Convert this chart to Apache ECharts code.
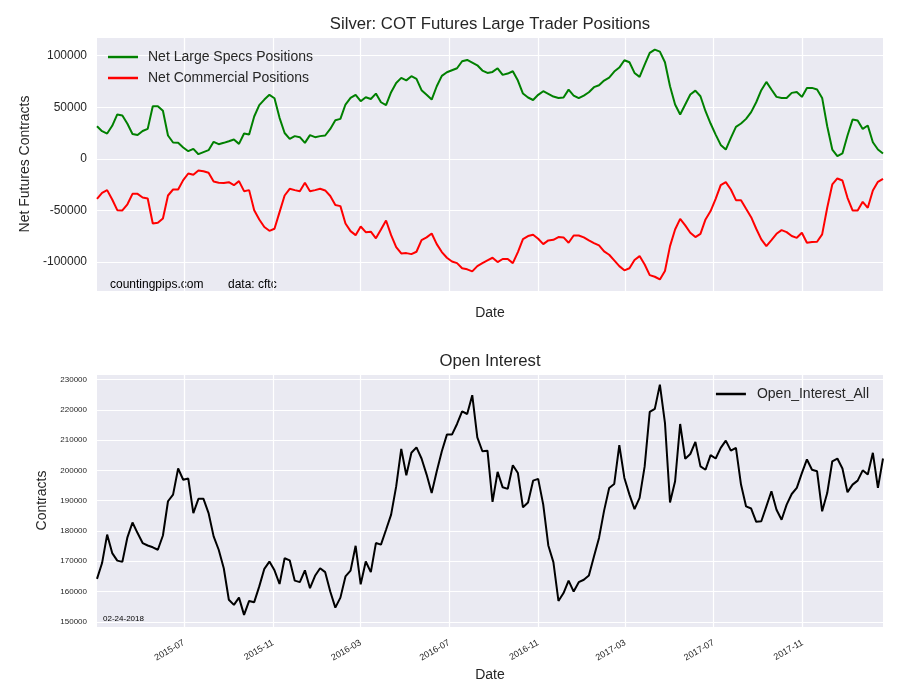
<!DOCTYPE html>
<html>
<head>
<meta charset="utf-8">
<script src="https://cdn.jsdelivr.net/npm/echarts@6/dist/echarts.min.js"></script>
<style>html,body{margin:0;padding:0;background:#fff}#c{width:900px;height:700px}</style>
</head>
<body>
<div id="c"></div>
<script>
// Weekly report dates (Tuesdays) from 2015-03-03 to 2018-02-20
const startDate = [2015, 2, 3];
const weekCount = 156;

const netLargeSpecs = [31600, 26800, 24500, 32000, 43000, 42000, 34000, 24000, 23000, 27000, 29000, 51000, 51000, 46500, 22600, 15800, 15500, 11000, 7400, 9700, 4500, 6500, 8400, 16500, 14200, 15500, 17000, 18700, 14500, 24500, 23500, 41000, 52000, 57400, 62000, 58700, 39700, 25000, 19400, 22000, 21000, 15500, 23000, 21000, 22000, 22600, 29000, 37400, 38700, 52600, 59000, 62000, 55800,
  59700, 58000, 63200, 54800, 52000, 64500, 73500, 78400, 76000, 80000, 77400, 66500, 62000, 57400, 70300, 80300, 83900, 85800, 87700, 94500, 95800, 93200, 90600, 85500, 83200, 84200, 87700, 81300, 82600, 84800, 75800, 63200, 59400, 57000, 62000, 65500, 63000, 60300, 59000, 59400, 67000, 61300, 58700, 61300, 64500, 69400, 71300, 75800, 78700, 84500, 88400,
  95500, 93500, 83200, 79400, 91300, 102600, 105800, 103900, 93500, 70300, 52600, 42900, 52600, 62300, 66100, 60600, 46100, 34200, 23500, 13500, 9000, 20300, 31000, 34200, 38700, 45200, 54800, 66500, 74500, 67100, 60000, 59000, 59000, 63900, 64800, 60000, 68700, 68700, 67100, 59000, 31600, 9000, 2600, 5200, 22600, 38000, 37100, 29000, 32300, 16100, 9000, 5200];

const netCommercial = [-38700, -33000, -30300, -39400, -49700, -50000, -44000, -33900, -33900, -37400, -38400, -62600, -62000, -57700, -35500, -29700, -29700, -20600, -14200, -15500, -11300, -12000, -13500, -22000, -23200, -23500, -22600, -25500, -21600, -31300, -30300, -49700, -58700, -66000, -69700, -67700, -51600, -35500, -29000, -30300, -31300, -23200, -31300, -30300, -29000, -30600, -36000, -44800, -45800, -62600, -70000, -73900, -65500,
  -71000, -70600, -77000, -68400, -59700, -73900, -85500, -91600, -91300, -92300, -90000, -78700, -76100, -72300, -82600, -90300, -95800, -99400, -101000, -106000, -107000, -109000, -103900, -101000, -98400, -95800, -100000, -97000, -97000, -101000, -90300, -77700, -74800, -73500, -77400, -82600, -79000, -78400, -75800, -76100, -81300, -74200, -74200, -76100, -79000, -81600, -83900, -89700, -92900, -98400, -103900,
  -108000, -106000, -98000, -94200, -102300, -112600, -114200, -116800, -108700, -84500, -68400, -58100, -64500, -71600, -75800, -72600, -58700, -50600, -38700, -25500, -22600, -29700, -40000, -40000, -48400, -56500, -67700, -78000, -84500, -78700, -72600, -69000, -71000, -74800, -76500, -71600, -81300, -80600, -80300, -73200, -47400, -24800, -19000, -21000, -37700, -50000, -50000, -41600, -47400, -30600, -22300, -19400];

const openInterest = [164200, 169400, 178800, 172700, 170200, 169800, 177900, 182800, 179300, 176000, 175200, 174600, 173800, 178500, 189800, 192000, 200600, 196900, 197300, 185900, 190600, 190600, 185900, 178200, 173800, 167700, 157300, 155600, 158000, 152300, 156900, 156500, 161700, 167500, 169900, 167000, 162500, 171000, 170300, 163600, 163100, 167000, 161100, 165200, 167700, 166400, 160000, 154700, 158000, 165000, 166900, 175100, 162400,
  169900, 166400, 176000, 175500, 180400, 185400, 194700, 207100, 198400, 205800, 207600, 203900, 198600, 192500, 199700, 206300, 211800, 211800, 215300, 219500, 218600, 224800, 210900, 206300, 206500, 189600, 199500, 194400, 193900, 201700, 199100, 187800, 189400, 196600, 197200, 188700, 175200, 169700, 156900, 159500, 163600, 160000, 163100, 163900, 165300, 171600, 177700, 186700, 194200, 195500, 208300,
  197500, 192000, 187200, 190900, 201300, 219300, 220300, 228300, 215700, 189400, 196400, 215300, 203800, 205400, 209400, 201300, 200200, 205000, 203900, 207400, 209800, 206500, 207400, 195300, 188100, 187400, 183000, 183200, 188100, 193100, 187000, 183700, 188700, 192200, 194200, 199100, 203600, 200200, 199700, 186500, 192500, 203000, 203900, 200600, 192800, 195300, 196600, 200000, 198600, 205800, 194200, 203900];

const xTickLabels = ['2015-07-01', '2015-11-01', '2016-03-01', '2016-07-01', '2016-11-01', '2017-03-01', '2017-07-01', '2017-11-01'];
const topTitle = 'Silver: COT Futures Large Trader Positions';
const bottomTitle = 'Open Interest';
const seriesNames = ['Net Large Specs Positions', 'Net Commercial Positions', 'Open_Interest_All'];

const dates = [];
for (let i = 0; i < weekCount; i++) {
  dates.push(new Date(startDate[0], startDate[1], startDate[2] + 7 * i).getTime());
}
const pair = arr => arr.map((v, i) => [dates[i], v]);
const xMin = dates[0], xMax = dates[dates.length - 1];

const FONT = "'Liberation Sans', Arial, sans-serif";
const TXT = '#262626';
const BG = '#EAEAF2';

const chart = echarts.init(document.getElementById('c'), null, {renderer: 'canvas'});

function xAxisCfg(idx, showLabels, nameGap) {
  return {
    type: 'time', gridIndex: idx, min: xMin, max: xMax,
    name: 'Date', nameLocation: 'middle', nameGap: nameGap,
    nameTextStyle: {fontFamily: FONT, fontSize: 14, color: TXT},
    axisLine: {show: false},
    axisTick: {show: false, customValues: xTickLabels},
    splitLine: {show: true, lineStyle: {color: '#fff', width: 1.2}},
    axisLabel: {
      show: showLabels, customValues: xTickLabels, rotate: 30, fontSize: 9,
      fontFamily: FONT, color: TXT, margin: 15, formatter: '{yyyy}-{MM}'
    }
  };
}
const plain = v => String(Math.round(v));

chart.setOption({
  animation: false,
  backgroundColor: '#fff',
  grid: [
    {left: 97, top: 37, width: 786, height: 254, show: true, backgroundColor: BG, borderWidth: 0},
    {left: 97, top: 374, width: 786, height: 253, show: true, backgroundColor: BG, borderWidth: 0}
  ],
  xAxis: [xAxisCfg(0, false, 15), xAxisCfg(1, true, 41)],
  yAxis: [
    {
      type: 'value', gridIndex: 0, min: -128000, max: 118000, splitNumber: 5,
      name: 'Net Futures Contracts', nameLocation: 'middle', nameGap: 63,
      nameTextStyle: {fontFamily: FONT, fontSize: 14, color: TXT},
      axisLine: {show: false}, axisTick: {show: false},
      splitLine: {lineStyle: {color: '#fff', width: 1.2}},
      axisLabel: {fontFamily: FONT, fontSize: 12, color: TXT, margin: 10, showMinLabel: false, showMaxLabel: false, formatter: plain}
    },
    {
      type: 'value', gridIndex: 1, min: 148300, max: 231800, splitNumber: 8,
      name: 'Contracts', nameLocation: 'middle', nameGap: 48,
      nameTextStyle: {fontFamily: FONT, fontSize: 14, color: TXT},
      axisLine: {show: false}, axisTick: {show: false},
      splitLine: {lineStyle: {color: '#fff', width: 1.2}},
      axisLabel: {fontFamily: FONT, fontSize: 8, color: TXT, margin: 10, showMinLabel: false, showMaxLabel: false, formatter: plain}
    }
  ],
  legend: [
    {
      data: [seriesNames[0], seriesNames[1]], orient: 'vertical', left: 103, top: 45,
      icon: 'rect', itemWidth: 30, itemHeight: 2.5, itemGap: 7,
      textStyle: {fontFamily: FONT, fontSize: 14, color: TXT, padding: [0, 0, 0, 5]}
    },
    {
      data: [seriesNames[2]], orient: 'vertical', right: 26, top: 382,
      icon: 'rect', itemWidth: 30, itemHeight: 2.5,
      textStyle: {fontFamily: FONT, fontSize: 14, color: TXT, padding: [0, 0, 0, 6]}
    }
  ],
  series: [
    {name: seriesNames[0], type: 'line', xAxisIndex: 0, yAxisIndex: 0, data: pair(netLargeSpecs), showSymbol: false, symbol: 'none', color: '#008000', lineStyle: {width: 2, color: '#008000'}},
    {name: seriesNames[1], type: 'line', xAxisIndex: 0, yAxisIndex: 0, data: pair(netCommercial), showSymbol: false, symbol: 'none', color: '#FF0000', lineStyle: {width: 2, color: '#FF0000'}},
    {name: seriesNames[2], type: 'line', xAxisIndex: 1, yAxisIndex: 1, data: pair(openInterest), showSymbol: false, symbol: 'none', color: '#000000', lineStyle: {width: 2, color: '#000000'}}
  ],
  graphic: [
    {type: 'text', x: 490, y: 24, style: {text: topTitle, font: '16.7px ' + FONT, fill: TXT, textAlign: 'center', textVerticalAlign: 'middle'}},
    {type: 'text', x: 490, y: 361, style: {text: bottomTitle, font: '16.7px ' + FONT, fill: TXT, textAlign: 'center', textVerticalAlign: 'middle'}},
    {type: 'text', x: 110, y: 285, style: {text: 'countingpips.com', font: '12px ' + FONT, fill: '#000', textVerticalAlign: 'middle'}},
    {type: 'text', x: 228, y: 285, style: {text: 'data: cftc', font: '12px ' + FONT, fill: '#000', textVerticalAlign: 'middle'}},
    {type: 'text', x: 103, y: 619, style: {text: '02-24-2018', font: '8px ' + FONT, fill: '#000', textVerticalAlign: 'middle'}}
  ]
});
</script>
</body>
</html>
